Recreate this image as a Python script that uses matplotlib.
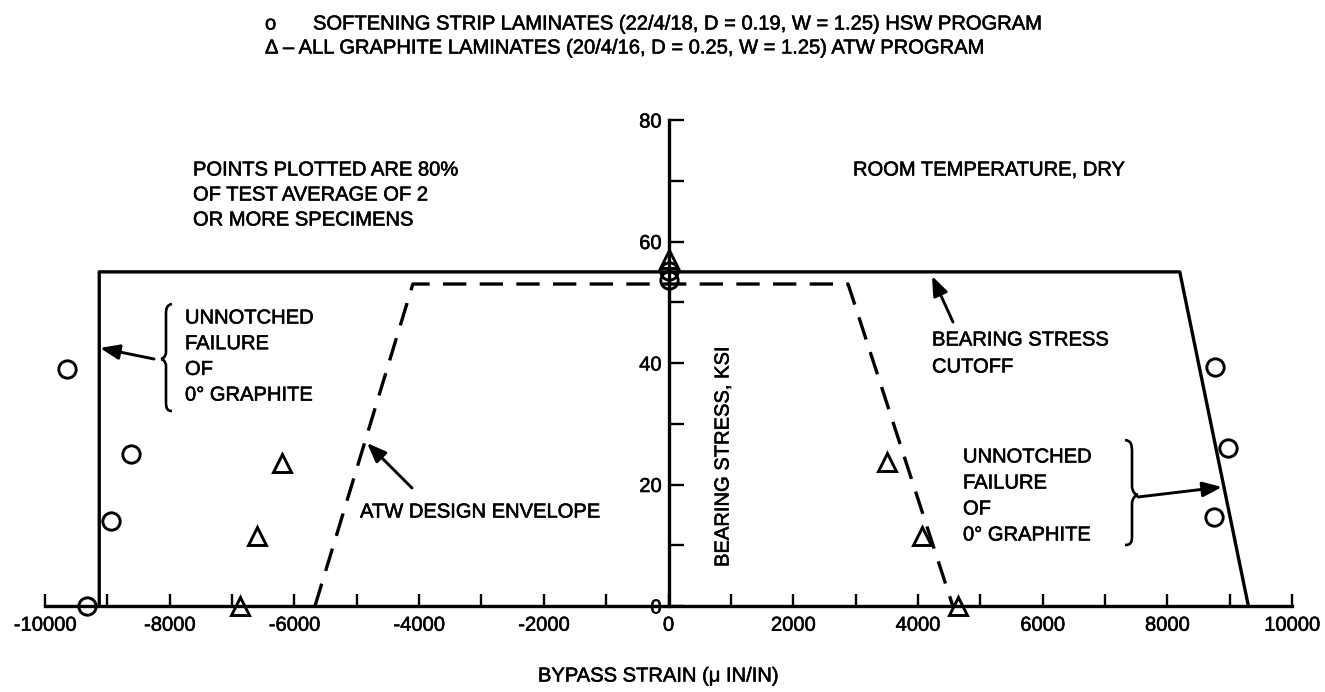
import matplotlib
matplotlib.use('Agg')
import matplotlib.pyplot as plt
from matplotlib.path import Path
from matplotlib.patches import PathPatch, FancyArrowPatch
import matplotlib.patheffects as pe

plt.rcParams['font.family'] = ['Liberation Sans', 'DejaVu Sans']

# ---------------- data ----------------
hsw_x = [-9650, -8620, -8940, -9320, 0, 0, 8770, 8970, 8750]
hsw_y = [39, 25, 14, 0, 55.2, 53.7, 39.4, 26, 14.7]
atw_x = [-6870, -6200, -6600, 0, 3500, 4060, 4640]
atw_y = [0, 23.6, 11.5, 57.2, 23.7, 11.5, 0]
cutoff_x = [-9130, -9130, 8200, 9300]
cutoff_y = [0, 55, 55, 0]
env_x = [-5670, -4100, 2880, 4560]
env_y = [0, 53, 53, 0]
xticks_major = [-10000, -8000, -6000, -4000, -2000, 0, 2000, 4000, 6000, 8000, 10000]
xticks_minor = [-9000, -7000, -5000, -3000, -1000, 1000, 3000, 5000, 7000, 9000]
yticks_major = [0, 20, 40, 60, 80]
yticks_minor = [10, 30, 50, 70]

title1_sym = "o"
title1 = "SOFTENING STRIP LAMINATES (22/4/18, D = 0.19, W = 1.25) HSW PROGRAM"
title2 = "\u0394 \u2013 ALL GRAPHITE LAMINATES (20/4/16, D = 0.25, W = 1.25) ATW PROGRAM"
note_points = ["POINTS PLOTTED ARE 80%", "OF TEST AVERAGE OF 2", "OR MORE SPECIMENS"]
note_room = "ROOM TEMPERATURE, DRY"
note_unnotched = ["UNNOTCHED", "FAILURE", "OF", "0\u00b0 GRAPHITE"]
note_env = "ATW DESIGN ENVELOPE"
note_cutoff = ["BEARING STRESS", "CUTOFF"]
xlabel = "BYPASS STRAIN (\u03bc IN/IN)"
ylabel = "BEARING STRESS, KSI"

# ---------------- figure ----------------
W, H = 1325, 692
fig = plt.figure(figsize=(W / 100, H / 100), dpi=100)
x0px, x1px = 45, 1292
y0px, y1px = 606, 120
ax = fig.add_axes([x0px / W, 1 - y0px / H, (x1px - x0px) / W, (y0px - y1px) / H])
ax.set_xlim(-10000, 10000)
ax.set_ylim(0, 80)
ax.patch.set_visible(False)

FS = 14.5
STROKE = [pe.withStroke(linewidth=0.4, foreground='black')]

for s in ['top', 'right']:
    ax.spines[s].set_visible(False)
ax.spines['left'].set_position(('data', 0))
ax.spines['bottom'].set_position(('data', 0))
ax.spines['left'].set_linewidth(2.4)
ax.spines['bottom'].set_linewidth(2.4)

ax.set_xticks(xticks_major)
ax.set_xticks(xticks_minor, minor=True)
ax.set_xticklabels([str(v) for v in xticks_major])
ax.set_yticks(yticks_major)
ax.set_yticks(yticks_minor, minor=True)
ax.set_yticklabels([str(v) for v in yticks_major])
ax.tick_params(axis='x', which='both', direction='in', length=9, width=1.7, pad=7, labelsize=FS)
ax.tick_params(axis='y', which='both', direction='in', length=11, width=1.7, pad=5, labelsize=FS)
for lab in ax.get_xticklabels() + ax.get_yticklabels():
    lab.set_path_effects(STROKE)

ax.plot(cutoff_x, cutoff_y, color='black', lw=2.4, clip_on=False, zorder=3)
ax.plot(env_x, env_y, color='black', lw=2.4, ls=(0, (7, 4)), clip_on=False, zorder=3)
ax.plot(hsw_x, hsw_y, ls='none', marker='o', ms=12.5, mfc='none', mec='black', mew=2.1,
        clip_on=False, zorder=4)
ax.plot(atw_x, atw_y, ls='none', marker='^', ms=13, mfc='none', mec='black', mew=2.1,
        clip_on=False, zorder=4)


def fx(x):
    return x / W


def fy(y):
    return 1 - y / H


def T(x, y, s, **kw):
    kw.setdefault('va', 'center')
    kw.setdefault('ha', 'left')
    kw.setdefault('fontsize', FS)
    t = fig.text(fx(x), fy(y), s, **kw)
    t.set_path_effects(STROKE)
    return t


def block(x, y_first, pitch, lines):
    for i, s in enumerate(lines):
        T(x, y_first + i * pitch, s)


def arrow(x0, y0, x1, y1):
    a = FancyArrowPatch((fx(x0), fy(y0)), (fx(x1), fy(y1)), transform=fig.transFigure,
                        arrowstyle='-|>,head_length=0.9,head_width=0.35', mutation_scale=13,
                        lw=2.1, color='black', shrinkA=0, shrinkB=0)
    fig.patches.append(a)


def brace(xs, ys, codes):
    verts = [(fx(x), fy(y)) for x, y in zip(xs, ys)]
    p = PathPatch(Path(verts, codes), transform=fig.transFigure, fill=False,
                  lw=1.9, edgecolor='black')
    fig.patches.append(p)


# titles
T(265, 24, title1_sym)
T(313, 24, title1)
T(265, 48, title2)

block(193, 170, 25, note_points)
T(853, 170, note_room)
block(185, 318, 25.7, note_unnotched)
block(963, 457, 26, note_unnotched)
T(360, 512, note_env)
block(932, 340, 27, note_cutoff)

T(658, 676, xlabel, ha='center')
T(723, 457, ylabel, ha='center', rotation=90)

# arrows
arrow(154, 359, 100, 348)
arrow(412, 488, 367, 443)
arrow(953, 322, 932, 276)
arrow(1138, 497, 1222, 487)

C = Path.CURVE4
L = Path.LINETO
M = Path.MOVETO
# left brace "{"
bx = [172, 167, 166, 166, 166, 166, 163, 161, 163, 166, 166, 166, 166, 167, 172]
by = [304, 305, 308, 314, 352, 356, 359, 359, 359, 362, 366, 402, 408, 411, 411]
brace(bx, by, [M, C, C, C, L, C, C, C, C, C, C, L, C, C, C])
# right brace "}"
rx = [1125, 1131, 1132, 1132, 1132, 1132, 1135, 1138, 1135, 1132, 1132, 1132, 1132, 1131, 1125]
ry = [440, 441, 444, 452, 486, 491, 495, 495, 495, 499, 504, 536, 542, 545, 545]
brace(rx, ry, [M, C, C, C, L, C, C, C, C, C, C, L, C, C, C])

fig.savefig('out.png', dpi=100)
